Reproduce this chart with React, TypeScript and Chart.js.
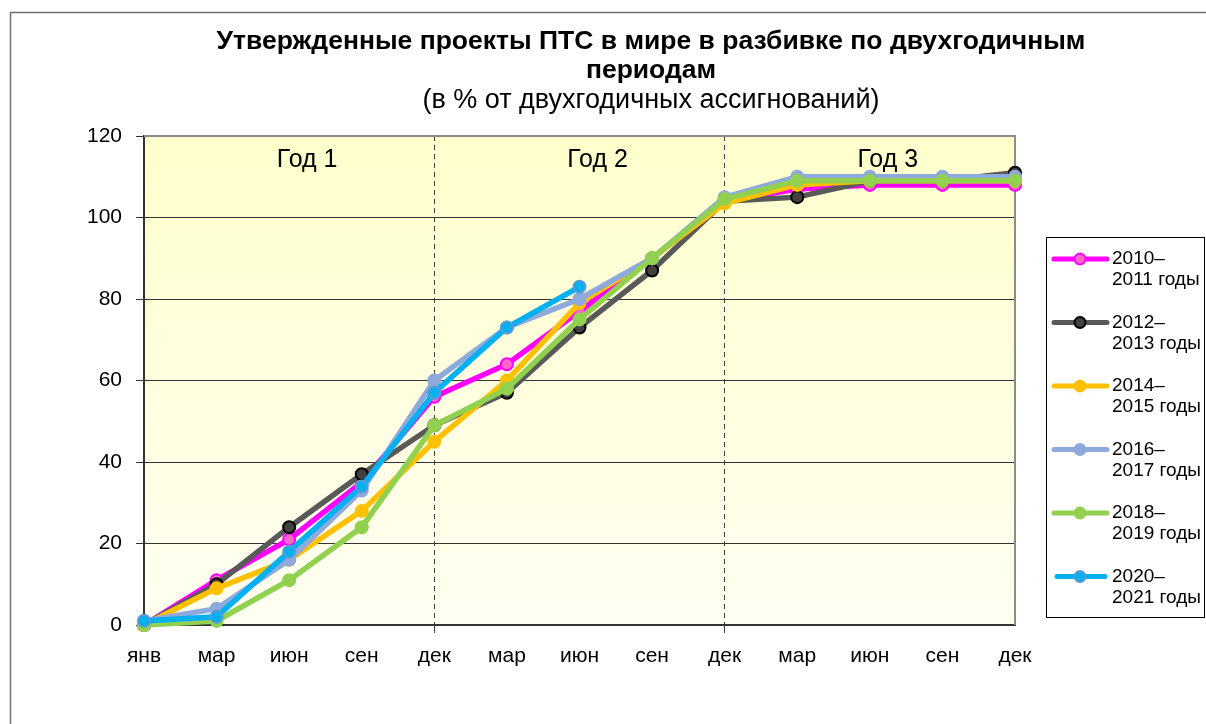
import React, { useEffect, useRef } from "react";
import { Chart, registerables } from "chart.js";

Chart.register(...registerables);

const categories = ["янв", "мар", "июн", "сен", "дек", "мар", "июн", "сен", "дек", "мар", "июн", "сен", "дек"];
const yearLabels = ["Год 1", "Год 2", "Год 3"];
const seriesNames = [
  ["2010–", "2011 годы"],
  ["2012–", "2013 годы"],
  ["2014–", "2015 годы"],
  ["2016–", "2017 годы"],
  ["2018–", "2019 годы"],
  ["2020–", "2021 годы"],
];
const s2010 = [0, 11, 21, 35, 56, 64, 77, 90, 104, 107, 108, 108, 108];
const s2012 = [0, 10, 24, 37, 49, 57, 73, 87, 104, 105, 109, 109, 111];
const s2014 = [0, 9, 16, 28, 45, 60, 79, 90, 103.5, 108, 109, 109, 109];
const s2016 = [1, 4, 16, 33, 60, 73, 80, 90, 105, 110, 110, 110, 110];
const s2018 = [0, 1, 11, 24, 49, 58, 75, 90, 104.5, 109, 109, 109, 109];
const s2020 = [1, 2, 18, 34, 57, 73, 83, null, null, null, null, null, null];
const yTicks = [0, 20, 40, 60, 80, 100, 120];

const lineColors = ["#FF00FF", "#595959", "#FFC000", "#8EA9DB", "#92D050", "#00B0F0"];
const pointFills = ["#FF66CC", "#404040", "#FFC000", "#8EA9DB", "#92D050", "#00B0F0"];
const pointBorders = ["#FF00FF", "#000000", "#FFC000", "#8EA9DB", "#92D050", "#5B9BD5"];

const FONT = "'Liberation Sans', Arial, sans-serif";

export default function App() {
  const ref = useRef<HTMLCanvasElement | null>(null);

  useEffect(() => {
    const canvas = ref.current;
    if (!canvas) return;
    const allSeries = [s2010, s2012, s2014, s2016, s2018, s2020];

    const decor = {
      id: "decor",
      beforeDraw(chart: any) {
        const { ctx, chartArea: a } = chart;
        ctx.save();
        ctx.fillStyle = "#ffffff";
        ctx.fillRect(0, 0, chart.width, chart.height);
        ctx.strokeStyle = "#707070";
        ctx.lineWidth = 1.5;
        ctx.strokeRect(10.5, 12.5, 1400, 900);
        const g = ctx.createLinearGradient(0, a.top, 0, a.bottom);
        g.addColorStop(0, "#FFFFCC");
        g.addColorStop(1, "#FFFFF2");
        ctx.fillStyle = g;
        ctx.fillRect(a.left, a.top, a.right - a.left, a.bottom - a.top);
        ctx.restore();
      },
      beforeDatasetsDraw(chart: any) {
        const { ctx, chartArea: a } = chart;
        const xs = chart.scales.x;
        ctx.save();
        ctx.strokeStyle = "#8c8c8c";
        ctx.lineWidth = 2;
        ctx.beginPath();
        ctx.moveTo(a.left, a.top);
        ctx.lineTo(a.right, a.top);
        ctx.lineTo(a.right, a.bottom);
        ctx.stroke();
        ctx.fillStyle = "#000";
        ctx.font = `25px ${FONT}`;
        ctx.textAlign = "center";
        ctx.textBaseline = "middle";
        yearLabels.forEach((t, i) => {
          const x0 = xs.getPixelForValue(i * 4);
          const x1 = xs.getPixelForValue(i * 4 + 4);
          ctx.fillText(t, (x0 + x1) / 2 + 18, a.top + 24);
        });
        ctx.restore();
      },
      afterDraw(chart: any) {
        const { ctx } = chart;
        ctx.save();
        ctx.fillStyle = "#000";
        ctx.textAlign = "center";
        ctx.textBaseline = "middle";
        ctx.font = `bold 26.5px ${FONT}`;
        ctx.fillText("Утвержденные проекты ПТС в мире в разбивке по двухгодичным", 651, 42);
        ctx.fillText("периодам", 651, 71);
        ctx.font = `27px ${FONT}`;
        ctx.fillText("(в % от двухгодичных ассигнований)", 651, 101);

        // legend
        ctx.strokeStyle = "#000";
        ctx.lineWidth = 1;
        ctx.strokeRect(1046.5, 237.5, 158, 380);
        ctx.textAlign = "left";
        ctx.font = `19px ${FONT}`;
        seriesNames.forEach((names, i) => {
          const y0 = 259 + i * 63.5;
          ctx.strokeStyle = lineColors[i];
          ctx.lineWidth = 5;
          ctx.lineCap = "round";
          ctx.beginPath();
          ctx.moveTo(i === 5 ? 1057 : 1054, y0);
          ctx.lineTo(i === 5 ? 1105 : 1107, y0);
          ctx.stroke();
          ctx.beginPath();
          ctx.arc(1080, y0, 5.5, 0, Math.PI * 2);
          ctx.fillStyle = pointFills[i];
          ctx.fill();
          ctx.lineWidth = 2;
          ctx.strokeStyle = pointBorders[i];
          ctx.stroke();
          ctx.fillStyle = "#000";
          ctx.fillText(names[0], 1112, y0);
          ctx.fillText(names[1], 1112, y0 + 21);
        });
        ctx.restore();
      },
    };

    const chart = new Chart(canvas, {
      type: "line",
      data: {
        labels: categories,
        datasets: allSeries.map((d, i) => ({
          label: seriesNames[i].join(" "),
          data: d,
          borderColor: lineColors[i],
          backgroundColor: pointFills[i],
          pointBackgroundColor: pointFills[i],
          pointBorderColor: pointBorders[i],
          pointBorderWidth: 2,
          pointRadius: 6,
          borderWidth: 5.5,
          tension: 0,
          fill: false,
          spanGaps: false,
          clip: false as any,
          order: 6 - i,
        })),
      },
      options: {
        responsive: false,
        animation: false,
        layout: { padding: { left: 10, top: 136, right: 191, bottom: 39 } },
        plugins: {
          legend: { display: false },
          title: { display: false },
          tooltip: { enabled: false },
        },
        scales: {
          x: {
            type: "category",
            offset: false,
            afterFit(scale: any) {
              scale.height = 60;
            },
            grid: {
              offset: false,
              color: (c: any) => (c.index === 4 || c.index === 8 ? "#404040" : "transparent"),
              lineWidth: 1,
              tickLength: 8,
            },
            border: { display: true, color: "#333333", width: 2, dash: [5, 4] },
            ticks: {
              color: "#000",
              font: { family: FONT, size: 21 },
              padding: 11,
              maxRotation: 0,
              autoSkip: false,
            },
          },
          y: {
            min: 0,
            max: 120,
            afterFit(scale: any) {
              scale.width = 134;
            },
            afterBuildTicks(scale: any) {
              scale.ticks = yTicks.map((v) => ({ value: v }));
            },
            grid: {
              color: (c: any) => (c.index === 0 ? "transparent" : c.index === 6 ? "#8c8c8c" : "#333333"),
              tickColor: "#333333",
              lineWidth: 1,
              tickLength: 8,
            },
            border: { display: true, color: "#333333", width: 2 },
            ticks: {
              color: "#000",
              font: { family: FONT, size: 21 },
              padding: 14,
            },
          },
        },
      },
      plugins: [decor],
    });
    return () => chart.destroy();
  }, []);

  return (
    <div style={{ position: "absolute", left: 0, top: 0, width: 1206, height: 724 }}>
      <canvas ref={ref} width={1206} height={724} style={{ width: 1206, height: 724, display: "block" }} />
    </div>
  );
}
